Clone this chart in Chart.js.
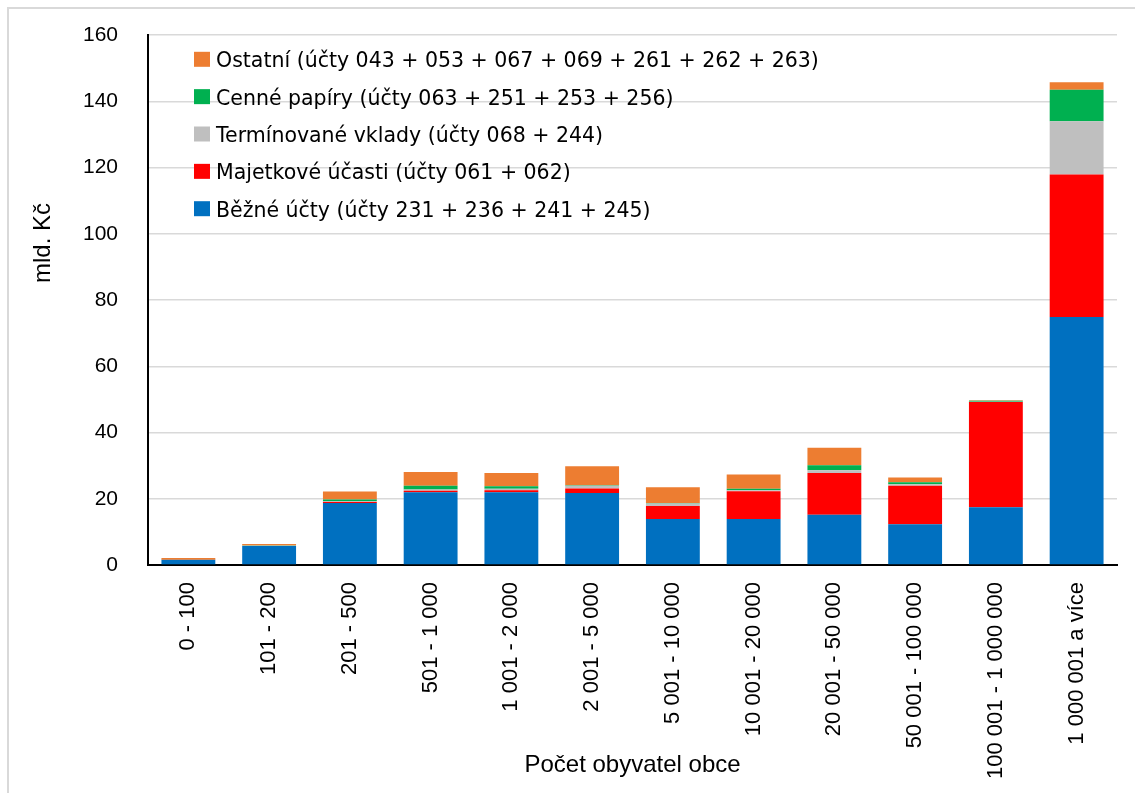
<!DOCTYPE html>
<html lang="cs">
<head>
  <meta charset="UTF-8">
  <title>Finanční aktiva obcí</title>
  <style>
    html, body { margin: 0; padding: 0; background: #fff; overflow: hidden; }
    canvas { display: block; }
  </style>
</head>
<body>
  <canvas id="chart" width="1135" height="793"></canvas>

  <script src="https://cdn.jsdelivr.net/npm/chart.js"></script>
  <script>
    // kategorie velikosti obcí
    const categories = ["0 - 100", "101 - 200", "201 - 500", "501 - 1 000", "1 001 - 2 000", "2 001 - 5 000",
                        "5 001 - 10 000", "10 001 - 20 000", "20 001 - 50 000", "50 001 - 100 000",
                        "100 001 - 1 000 000", "1 000 001 a více"];

    // hodnoty v mld. Kč
    const bezneUcty   = [1.5, 5.7, 18.7, 22.0, 22.0, 21.7, 13.9, 13.9, 15.2, 12.3, 17.4, 74.9];
    const majetkove   = [0.05, 0.05, 0.3, 0.4, 0.6, 1.4, 3.9, 8.4, 12.6, 11.6, 31.8, 43.0];
    const terminovane = [0.05, 0.05, 0.3, 0.4, 0.4, 0.8, 0.8, 0.3, 0.8, 0.5, 0.1, 16.1];
    const cenne       = [0.05, 0.05, 0.5, 1.1, 0.8, 0.2, 0.1, 0.4, 1.5, 0.6, 0.3, 9.5];
    const ostatni     = [0.5, 0.5, 2.4, 4.2, 4.0, 5.7, 4.8, 4.3, 5.3, 1.4, 0.1, 2.2];

    const yTicks = [0, 20, 40, 60, 80, 100, 120, 140, 160];

    const yTitle = "mld. Kč";
    const xTitle = "Počet obyvatel obce";

    const arial = "'Liberation Sans', Arial, sans-serif";

    // rámeček grafu, názvy os a legenda uvnitř plochy
    const extras = {
      id: 'extras',
      beforeDraw(chart) {
        const ctx = chart.ctx;
        ctx.save();
        ctx.fillStyle = '#d9d9d9';
        ctx.fillRect(7, 7, 2, chart.height);
        ctx.fillRect(7, 7, chart.width, 2);
        ctx.restore();
      },
      afterDraw(chart) {
        const ctx = chart.ctx;
        const area = chart.chartArea;
        ctx.save();
        ctx.fillStyle = '#000';
        ctx.font = "24px " + arial;

        // název osy x
        ctx.textAlign = 'center';
        ctx.textBaseline = 'alphabetic';
        ctx.fillText(xTitle, (area.left + area.right) / 2, 772);

        // název osy y
        ctx.save();
        ctx.translate(50, 243);
        ctx.rotate(-Math.PI / 2);
        ctx.fillText(yTitle, 0, 0);
        ctx.restore();

        // legenda
        ctx.font = "20.5px 'DejaVu Sans', sans-serif";
        ctx.textAlign = 'left';
        const sets = chart.data.datasets.slice().reverse();
        sets.forEach((ds, i) => {
          const base = 67.3 + i * 37.35;
          ctx.fillStyle = ds.backgroundColor;
          ctx.fillRect(194, base - 15.5, 16, 15);
          ctx.fillStyle = '#000';
          ctx.fillText(ds.label, 216, base);
        });
        ctx.restore();
      }
    };

    new Chart(document.getElementById('chart').getContext('2d'), {
      type: 'bar',
      data: {
        labels: categories,
        datasets: [
          { label: "Běžné účty (účty 231 + 236 + 241 + 245)", data: bezneUcty, backgroundColor: '#0070C0' },
          { label: "Majetkové účasti (účty 061 + 062)", data: majetkove, backgroundColor: '#FF0000' },
          { label: "Termínované vklady (účty 068 + 244)", data: terminovane, backgroundColor: '#BFBFBF' },
          { label: "Cenné papíry (účty 063 + 251 + 253 + 256)", data: cenne, backgroundColor: '#00B050' },
          { label: "Ostatní (účty 043 + 053 + 067 + 069 + 261 + 262 + 263)", data: ostatni, backgroundColor: '#ED7D31' }
        ]
      },
      options: {
        responsive: false,
        animation: false,
        devicePixelRatio: 1,
        datasets: { bar: { categoryPercentage: 1, barPercentage: 0.667, borderWidth: 0 } },
        layout: { padding: { top: 35, right: 18, left: 0, bottom: 0 } },
        plugins: { legend: { display: false }, tooltip: { enabled: false } },
        scales: {
          x: {
            stacked: true,
            grid: { drawOnChartArea: false, drawTicks: false },
            border: { color: '#000', width: 2 },
            ticks: {
              color: '#000',
              font: { family: arial, size: 22 },
              minRotation: 90,
              maxRotation: 90,
              autoSkip: false,
              padding: 17
            },
            afterFit(scale) { scale.height = 228; }
          },
          y: {
            stacked: true,
            min: yTicks[0],
            max: yTicks[yTicks.length - 1],
            grid: { color: '#d9d9d9', lineWidth: 1.5, drawTicks: false },
            border: { color: '#000', width: 2 },
            ticks: {
              stepSize: yTicks[1] - yTicks[0],
              color: '#000',
              font: { family: arial, size: 21 },
              padding: 30
            },
            afterFit(scale) {
              scale.width = 148;
              scale.paddingTop = 0;
            }
          }
        }
      },
      plugins: [extras]
    });
  </script>
</body>
</html>
